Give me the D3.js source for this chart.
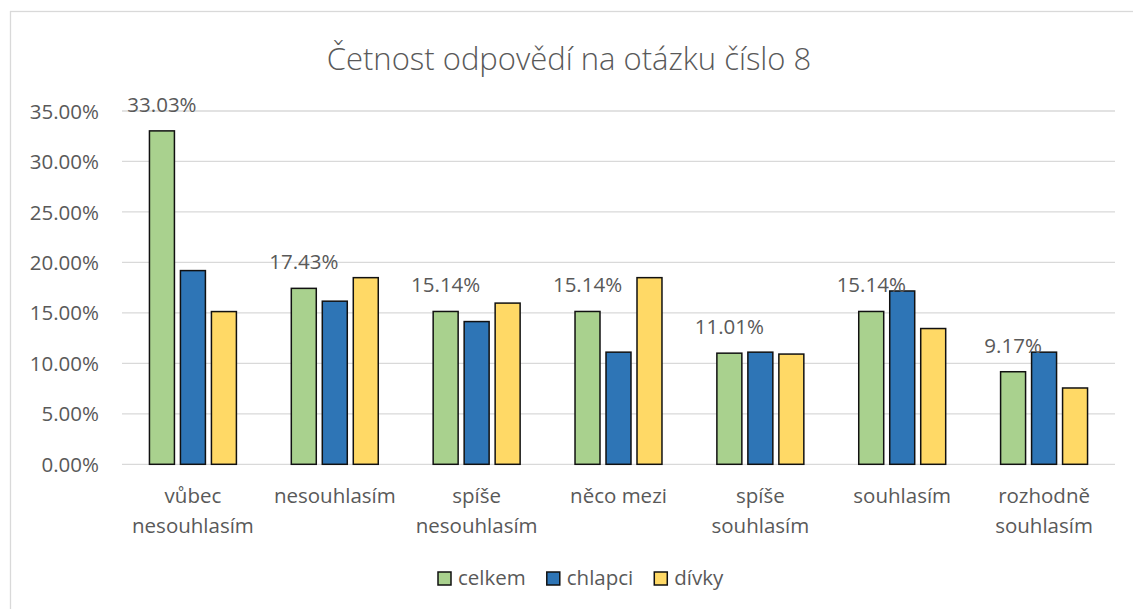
<!DOCTYPE html>
<html>
<head>
<meta charset="utf-8">
<script src="https://cdn.jsdelivr.net/npm/d3@7"></script>
<style>
  html, body { margin: 0; padding: 0; background: #fff; }
  text { font-family: "Open Sans", "Noto Sans", sans-serif; fill: #595959; }
</style>
</head>
<body>
<svg id="chart" width="1133" height="609"></svg>
<script>
const categories = [
  ["vůbec", "nesouhlasím"],
  ["nesouhlasím"],
  ["spíše", "nesouhlasím"],
  ["něco mezi"],
  ["spíše", "souhlasím"],
  ["souhlasím"],
  ["rozhodně", "souhlasím"]
];
const seriesNames = ["celkem", "chlapci", "dívky"];
const celkem = [33.03, 17.43, 15.14, 15.14, 11.01, 15.14, 9.17];
const chlapci = [19.19, 16.16, 14.14, 11.11, 11.11, 17.17, 11.11];
const divky = [15.13, 18.49, 15.97, 18.49, 10.92, 13.45, 7.56];
const yTicks = [0, 5, 10, 15, 20, 25, 30, 35];
const colors = ["#A9D18E", "#2E75B6", "#FFD966"];

const svg = d3.select("#chart");

// outer chart frame (runs off the right and bottom edge)
svg.append("rect")
  .attr("x", 10.5).attr("y", 11.5)
  .attr("width", 1140).attr("height", 620)
  .attr("fill", "none")
  .attr("stroke", "#D9D9D9")
  .attr("stroke-width", 1.3);

svg.append("text")
  .attr("x", 569).attr("y", 70)
  .attr("text-anchor", "middle")
  .style("font-size", "31px")
  .style("font-weight", 300)
  .text("Četnost odpovědí na otázku číslo 8");

const x = d3.scaleBand()
  .domain(d3.range(categories.length))
  .range([122, 1115])
  .paddingInner(0.387)
  .paddingOuter(0.1935);

const xs = d3.scaleBand()
  .domain(seriesNames)
  .range([0, x.bandwidth()])
  .paddingInner(0.194);

const y = d3.scaleLinear().domain([0, 35]).range([464.3, 111]);

// gridlines
svg.append("g")
  .selectAll("line")
  .data(yTicks)
  .join("line")
  .attr("x1", 122).attr("x2", 1115)
  .attr("y1", (d) => y(d)).attr("y2", (d) => y(d))
  .attr("stroke", "#D9D9D9")
  .attr("stroke-width", 1.3);

// y axis labels
svg.append("g")
  .selectAll("text")
  .data(yTicks)
  .join("text")
  .attr("x", 99)
  .attr("y", (d) => y(d))
  .attr("dy", "0.37em")
  .attr("text-anchor", "end")
  .style("font-size", "20.5px")
  .text((d) => d.toFixed(2) + "%");

const table = categories.map((c, i) => ({
  i,
  vals: [celkem[i], chlapci[i], divky[i]]
}));

const groups = svg.append("g")
  .selectAll("g")
  .data(table)
  .join("g")
  .attr("transform", (d) => `translate(${x(d.i)},0)`);

groups.selectAll("rect")
  .data((d) => d.vals.map((v, k) => ({name: seriesNames[k], v, k})))
  .join("rect")
  .attr("x", (d) => xs(d.name))
  .attr("width", xs.bandwidth())
  .attr("y", (d) => y(d.v))
  .attr("height", (d) => y(0) - y(d.v))
  .attr("fill", (d) => colors[d.k])
  .attr("stroke", "#111")
  .attr("stroke-width", 1.5);

// data labels, celkem only
groups.append("text")
  .attr("x", (d) => xs("celkem") + xs.bandwidth() / 2)
  .attr("y", (d) => y(d.vals[0]) - 19)
  .attr("text-anchor", "middle")
  .style("font-size", "20.5px")
  .text((d) => d.vals[0].toFixed(2) + "%");

// category labels
svg.append("g")
  .selectAll("text")
  .data(categories)
  .join("text")
  .attr("text-anchor", "middle")
  .style("font-size", "20.5px")
  .attr("transform", (d, i) => `translate(${x(i) + x.bandwidth() / 2},503)`)
  .selectAll("tspan")
  .data((d) => d)
  .join("tspan")
  .attr("x", 0)
  .attr("y", (d, j) => j * 29.5)
  .text((d) => d);

// legend
const legend = svg.append("g");
let lx = 438;
seriesNames.forEach((name, k) => {
  legend.append("rect")
    .attr("x", lx).attr("y", 572)
    .attr("width", 13).attr("height", 13)
    .attr("fill", colors[k])
    .attr("stroke", "#111")
    .attr("stroke-width", 1.5);
  const t = legend.append("text")
    .attr("x", lx + 20).attr("y", 585)
    .style("font-size", "20.5px")
    .text(name);
  lx += 20 + t.node().getComputedTextLength() + 21;
});
</script>
</body>
</html>
